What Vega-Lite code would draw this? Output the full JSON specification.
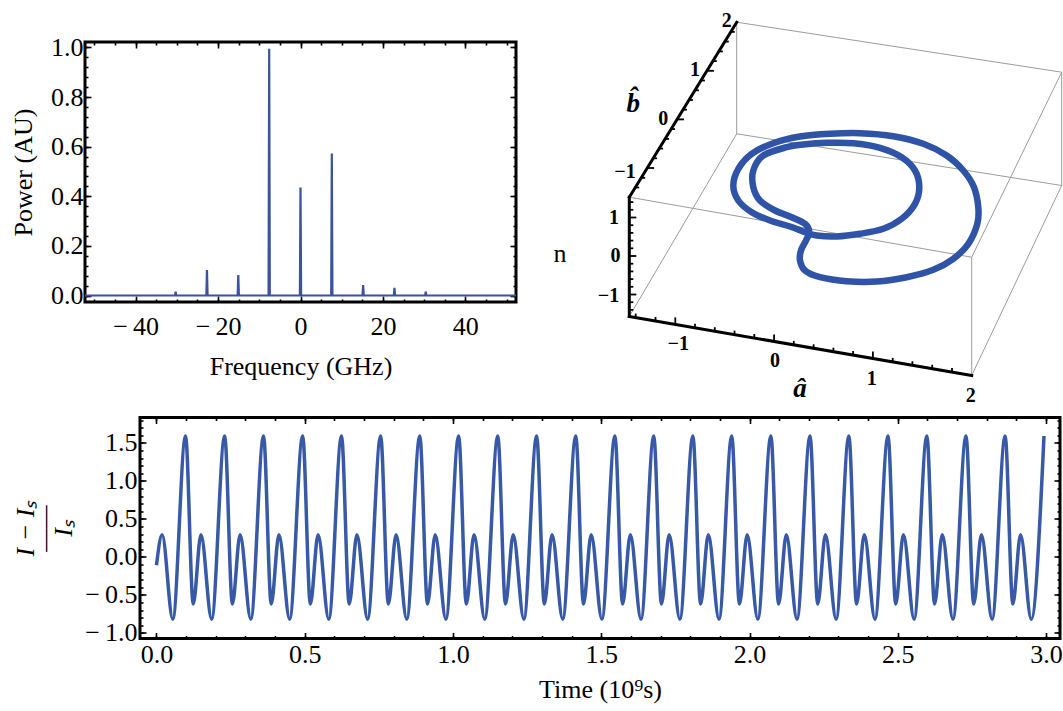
{
"$schema": "https://vega.github.io/schema/vega-lite/v6.json",
"background": "white",
"padding": {"left": 9, "top": 11, "right": 0, "bottom": 0},
"config": {
  "font": "Liberation Serif",
  "view": {"stroke": "black", "strokeWidth": 3},
  "axis": {"grid": false, "domain": false, "tickColor": "black", "tickWidth": 1.6, "labelFont": "Liberation Serif", "labelFontSize": 26, "labelColor": "black", "labelFlush": false, "labelOverlap": false, "titleFont": "Liberation Serif", "titleFontSize": 26, "titleFontWeight": "normal", "titleColor": "black"}
},
"datasets": {
  "spec": [
    {"f": -52.3, "p": 0}, {"f": -30.45, "p": 0}, {"f": -30.3, "p": 0.015}, {"f": -30.15, "p": 0},
    {"f": -22.85, "p": 0}, {"f": -22.7, "p": 0.103}, {"f": -22.55, "p": 0},
    {"f": -15.25, "p": 0}, {"f": -15.1, "p": 0.083}, {"f": -14.95, "p": 0},
    {"f": -7.75, "p": 0}, {"f": -7.6, "p": 0.995}, {"f": -7.45, "p": 0},
    {"f": -0.15, "p": 0}, {"f": 0, "p": 0.435}, {"f": 0.15, "p": 0},
    {"f": 7.45, "p": 0}, {"f": 7.6, "p": 0.572}, {"f": 7.75, "p": 0},
    {"f": 15.05, "p": 0}, {"f": 15.2, "p": 0.042}, {"f": 15.35, "p": 0},
    {"f": 22.65, "p": 0}, {"f": 22.8, "p": 0.031}, {"f": 22.95, "p": 0},
    {"f": 30.25, "p": 0}, {"f": 30.4, "p": 0.015}, {"f": 30.55, "p": 0},
    {"f": 52.3, "p": 0}
  ],
  "ts": [
    {"t": 0, "v": -0.11}, {"t": 0.019, "v": 0.29}, {"t": 0.055, "v": -0.82},
    {"t": 0.098, "v": 1.59}, {"t": 0.124, "v": -0.62}, {"t": 0.150, "v": 0.29}, {"t": 0.186, "v": -0.82},
    {"t": 0.230, "v": 1.59}, {"t": 0.256, "v": -0.62}, {"t": 0.282, "v": 0.29}, {"t": 0.318, "v": -0.82},
    {"t": 0.361, "v": 1.59}, {"t": 0.387, "v": -0.62}, {"t": 0.413, "v": 0.29}, {"t": 0.449, "v": -0.82},
    {"t": 0.493, "v": 1.59}, {"t": 0.519, "v": -0.62}, {"t": 0.545, "v": 0.29}, {"t": 0.581, "v": -0.82},
    {"t": 0.624, "v": 1.59}, {"t": 0.650, "v": -0.62}, {"t": 0.676, "v": 0.29}, {"t": 0.712, "v": -0.82},
    {"t": 0.756, "v": 1.59}, {"t": 0.782, "v": -0.62}, {"t": 0.808, "v": 0.29}, {"t": 0.844, "v": -0.82},
    {"t": 0.888, "v": 1.59}, {"t": 0.914, "v": -0.62}, {"t": 0.940, "v": 0.29}, {"t": 0.976, "v": -0.82},
    {"t": 1.019, "v": 1.59}, {"t": 1.045, "v": -0.62}, {"t": 1.071, "v": 0.29}, {"t": 1.107, "v": -0.82},
    {"t": 1.151, "v": 1.59}, {"t": 1.177, "v": -0.62}, {"t": 1.203, "v": 0.29}, {"t": 1.239, "v": -0.82},
    {"t": 1.282, "v": 1.59}, {"t": 1.308, "v": -0.62}, {"t": 1.334, "v": 0.29}, {"t": 1.370, "v": -0.82},
    {"t": 1.414, "v": 1.59}, {"t": 1.440, "v": -0.62}, {"t": 1.466, "v": 0.29}, {"t": 1.502, "v": -0.82},
    {"t": 1.546, "v": 1.59}, {"t": 1.572, "v": -0.62}, {"t": 1.598, "v": 0.29}, {"t": 1.634, "v": -0.82},
    {"t": 1.677, "v": 1.59}, {"t": 1.703, "v": -0.62}, {"t": 1.729, "v": 0.29}, {"t": 1.765, "v": -0.82},
    {"t": 1.809, "v": 1.59}, {"t": 1.835, "v": -0.62}, {"t": 1.861, "v": 0.29}, {"t": 1.897, "v": -0.82},
    {"t": 1.940, "v": 1.59}, {"t": 1.966, "v": -0.62}, {"t": 1.992, "v": 0.29}, {"t": 2.028, "v": -0.82},
    {"t": 2.072, "v": 1.59}, {"t": 2.098, "v": -0.62}, {"t": 2.124, "v": 0.29}, {"t": 2.160, "v": -0.82},
    {"t": 2.204, "v": 1.59}, {"t": 2.230, "v": -0.62}, {"t": 2.256, "v": 0.29}, {"t": 2.292, "v": -0.82},
    {"t": 2.335, "v": 1.59}, {"t": 2.361, "v": -0.62}, {"t": 2.387, "v": 0.29}, {"t": 2.423, "v": -0.82},
    {"t": 2.467, "v": 1.59}, {"t": 2.493, "v": -0.62}, {"t": 2.519, "v": 0.29}, {"t": 2.555, "v": -0.82},
    {"t": 2.598, "v": 1.59}, {"t": 2.624, "v": -0.62}, {"t": 2.650, "v": 0.29}, {"t": 2.686, "v": -0.82},
    {"t": 2.730, "v": 1.59}, {"t": 2.756, "v": -0.62}, {"t": 2.782, "v": 0.29}, {"t": 2.818, "v": -0.82},
    {"t": 2.862, "v": 1.59}, {"t": 2.888, "v": -0.62}, {"t": 2.914, "v": 0.29}, {"t": 2.950, "v": -0.82},
    {"t": 2.993, "v": 1.59}
  ],
  "seg": [
    {"k": "e", "u": 629.3, "v": 316, "u2": 736.7, "v2": 133.3},
    {"k": "e", "u": 629.3, "v": 196.7, "u2": 971.7, "v2": 256.7},
    {"k": "e", "u": 736.7, "v": 133.3, "u2": 736.7, "v2": 21.7},
    {"k": "e", "u": 736.7, "v": 133.3, "u2": 1061.7, "v2": 185},
    {"k": "e", "u": 736.7, "v": 21.7, "u2": 1061.7, "v2": 71.7},
    {"k": "e", "u": 971.7, "v": 375, "u2": 971.7, "v2": 256.7},
    {"k": "e", "u": 971.7, "v": 375, "u2": 1061.7, "v2": 185},
    {"k": "e", "u": 971.7, "v": 256.7, "u2": 1061.7, "v2": 71.7},
    {"k": "e", "u": 1061.7, "v": 185, "u2": 1061.7, "v2": 71.7},
    {"k": "a", "u": 629.3, "v": 316, "u2": 629.3, "v2": 196.7},
    {"k": "a", "u": 629.3, "v": 196.7, "u2": 736.7, "v2": 21.7},
    {"k": "a", "u": 629.3, "v": 316, "u2": 971.7, "v2": 375},
    {"k": "t", "u": 635.7, "v": 317.1, "u2": 635.7, "v2": 313.1},
    {"k": "t", "u": 655.5, "v": 320.5, "u2": 655.5, "v2": 316.5},
    {"k": "t", "u": 675.3, "v": 323.9, "u2": 675.3, "v2": 316.9},
    {"k": "t", "u": 695.0, "v": 327.3, "u2": 695.0, "v2": 323.3},
    {"k": "t", "u": 714.8, "v": 330.7, "u2": 714.8, "v2": 326.7},
    {"k": "t", "u": 734.5, "v": 334.1, "u2": 734.5, "v2": 330.1},
    {"k": "t", "u": 754.3, "v": 337.5, "u2": 754.3, "v2": 333.5},
    {"k": "t", "u": 774.1, "v": 340.9, "u2": 774.1, "v2": 333.9},
    {"k": "t", "u": 793.8, "v": 344.4, "u2": 793.8, "v2": 340.4},
    {"k": "t", "u": 813.6, "v": 347.8, "u2": 813.6, "v2": 343.8},
    {"k": "t", "u": 833.4, "v": 351.2, "u2": 833.4, "v2": 347.2},
    {"k": "t", "u": 853.1, "v": 354.6, "u2": 853.1, "v2": 350.6},
    {"k": "t", "u": 872.9, "v": 358.0, "u2": 872.9, "v2": 351.0},
    {"k": "t", "u": 892.7, "v": 361.4, "u2": 892.7, "v2": 357.4},
    {"k": "t", "u": 912.4, "v": 364.8, "u2": 912.4, "v2": 360.8},
    {"k": "t", "u": 932.2, "v": 368.2, "u2": 932.2, "v2": 364.2},
    {"k": "t", "u": 952.0, "v": 371.6, "u2": 952.0, "v2": 367.6},
    {"k": "t", "u": 730.7, "v": 31.4, "u2": 734.7, "v2": 31.4},
    {"k": "t", "u": 724.8, "v": 41.1, "u2": 728.8, "v2": 41.1},
    {"k": "t", "u": 718.8, "v": 50.9, "u2": 722.8, "v2": 50.9},
    {"k": "t", "u": 712.8, "v": 60.6, "u2": 716.8, "v2": 60.6},
    {"k": "t", "u": 706.9, "v": 70.3, "u2": 713.9, "v2": 70.3},
    {"k": "t", "u": 700.9, "v": 80.0, "u2": 704.9, "v2": 80.0},
    {"k": "t", "u": 694.9, "v": 89.8, "u2": 698.9, "v2": 89.8},
    {"k": "t", "u": 688.9, "v": 99.5, "u2": 692.9, "v2": 99.5},
    {"k": "t", "u": 683.0, "v": 109.2, "u2": 687.0, "v2": 109.2},
    {"k": "t", "u": 677.0, "v": 118.9, "u2": 684.0, "v2": 118.9},
    {"k": "t", "u": 671.0, "v": 128.6, "u2": 675.0, "v2": 128.6},
    {"k": "t", "u": 665.1, "v": 138.4, "u2": 669.1, "v2": 138.4},
    {"k": "t", "u": 659.1, "v": 148.1, "u2": 663.1, "v2": 148.1},
    {"k": "t", "u": 653.1, "v": 157.8, "u2": 657.1, "v2": 157.8},
    {"k": "t", "u": 647.1, "v": 167.5, "u2": 654.1, "v2": 167.5},
    {"k": "t", "u": 641.2, "v": 177.3, "u2": 645.2, "v2": 177.3},
    {"k": "t", "u": 635.2, "v": 187.0, "u2": 639.2, "v2": 187.0},
    {"k": "t", "u": 629.3, "v": 201.6, "u2": 633.3, "v2": 201.6},
    {"k": "t", "u": 629.3, "v": 209.3, "u2": 633.3, "v2": 209.3},
    {"k": "t", "u": 629.3, "v": 217.0, "u2": 636.3, "v2": 217.0},
    {"k": "t", "u": 629.3, "v": 224.7, "u2": 633.3, "v2": 224.7},
    {"k": "t", "u": 629.3, "v": 232.4, "u2": 633.3, "v2": 232.4},
    {"k": "t", "u": 629.3, "v": 240.1, "u2": 633.3, "v2": 240.1},
    {"k": "t", "u": 629.3, "v": 247.8, "u2": 633.3, "v2": 247.8},
    {"k": "t", "u": 629.3, "v": 255.5, "u2": 636.3, "v2": 255.5},
    {"k": "t", "u": 629.3, "v": 263.2, "u2": 633.3, "v2": 263.2},
    {"k": "t", "u": 629.3, "v": 270.9, "u2": 633.3, "v2": 270.9},
    {"k": "t", "u": 629.3, "v": 278.6, "u2": 633.3, "v2": 278.6},
    {"k": "t", "u": 629.3, "v": 286.3, "u2": 633.3, "v2": 286.3},
    {"k": "t", "u": 629.3, "v": 294.0, "u2": 636.3, "v2": 294.0},
    {"k": "t", "u": 629.3, "v": 301.7, "u2": 633.3, "v2": 301.7},
    {"k": "t", "u": 629.3, "v": 309.4, "u2": 633.3, "v2": 309.4}
  ],
  "curve": [
    {"i": 1, "u": 786.7, "v": 146.7}, {"i": 2, "u": 763.3, "v": 155}, {"i": 3, "u": 753.3, "v": 170},
    {"i": 4, "u": 753.3, "v": 186.7}, {"i": 5, "u": 760, "v": 200}, {"i": 6, "u": 775, "v": 210},
    {"i": 7, "u": 791.7, "v": 216.7}, {"i": 8, "u": 805, "v": 223.3}, {"i": 9, "u": 809.3, "v": 231.7},
    {"i": 10, "u": 806, "v": 240}, {"i": 11, "u": 801, "v": 250}, {"i": 12, "u": 800, "v": 260},
    {"i": 13, "u": 805, "v": 270}, {"i": 14, "u": 820, "v": 276.7}, {"i": 15, "u": 846.7, "v": 280.7},
    {"i": 16, "u": 876.7, "v": 281}, {"i": 17, "u": 906.7, "v": 276.7}, {"i": 18, "u": 933.3, "v": 269.3},
    {"i": 19, "u": 953.3, "v": 258.3}, {"i": 20, "u": 968.3, "v": 243.3}, {"i": 21, "u": 977.3, "v": 223.3},
    {"i": 22, "u": 978.3, "v": 206.7}, {"i": 23, "u": 974, "v": 186.7}, {"i": 24, "u": 963.3, "v": 170},
    {"i": 25, "u": 946.7, "v": 155}, {"i": 26, "u": 923.3, "v": 143.3}, {"i": 27, "u": 893.3, "v": 135.7},
    {"i": 28, "u": 860, "v": 132.7}, {"i": 29, "u": 830, "v": 133.3}, {"i": 30, "u": 800, "v": 136},
    {"i": 31, "u": 773.3, "v": 142.7}, {"i": 32, "u": 751.7, "v": 153.3}, {"i": 33, "u": 738.3, "v": 168.3},
    {"i": 34, "u": 733.3, "v": 185}, {"i": 35, "u": 738.3, "v": 200}, {"i": 36, "u": 751.7, "v": 211.7},
    {"i": 37, "u": 770, "v": 220}, {"i": 38, "u": 790, "v": 226}, {"i": 39, "u": 805, "v": 231.7},
    {"i": 40, "u": 816.7, "v": 235}, {"i": 41, "u": 836.7, "v": 236}, {"i": 42, "u": 860, "v": 233.3},
    {"i": 43, "u": 883.3, "v": 228.3}, {"i": 44, "u": 901.7, "v": 218.3}, {"i": 45, "u": 915, "v": 203.3},
    {"i": 46, "u": 919.3, "v": 186.7}, {"i": 47, "u": 915, "v": 170}, {"i": 48, "u": 901.7, "v": 156.7},
    {"i": 49, "u": 880, "v": 147.3}, {"i": 50, "u": 853.3, "v": 142.7}, {"i": 51, "u": 826.7, "v": 142.3},
    {"i": 52, "u": 803.3, "v": 144}
  ],
  "lab": [
    {"k": "tick", "u": 678.3, "v": 343.3, "s": "−1"},
    {"k": "tick", "u": 775, "v": 360.7, "s": "0"},
    {"k": "tick", "u": 871.7, "v": 378.3, "s": "1"},
    {"k": "tick", "u": 970.7, "v": 395, "s": "2"},
    {"k": "tick", "u": 726.7, "v": 20.7, "s": "2"},
    {"k": "tick", "u": 695, "v": 69.3, "s": "1"},
    {"k": "tick", "u": 663.3, "v": 118.3, "s": "0"},
    {"k": "tick", "u": 625, "v": 171.7, "s": "−1"},
    {"k": "tick", "u": 614, "v": 217.5, "s": "1"},
    {"k": "tick", "u": 615.5, "v": 255.5, "s": "0"},
    {"k": "tick", "u": 608.5, "v": 295.5, "s": "−1"},
    {"k": "hat", "u": 633.3, "v": 103.3, "s": "b̂"},
    {"k": "hat", "u": 800, "v": 388.3, "s": "â"},
    {"k": "n", "u": 560, "v": 253, "s": "n"}
  ],
  "blank": [{"z": 0}]
},
"columns": 1,
"spacing": 8.5,
"concat": [
  {
    "hconcat": [
      {
        "width": 431, "height": 260,
        "data": {"name": "spec"},
        "resolve": {"axis": {"x": "independent", "y": "independent"}},
        "layer": [
          {
            "mark": {"type": "line", "color": "#3a52a0", "strokeWidth": 2.2},
            "encoding": {
              "x": {"field": "f", "type": "quantitative", "scale": {"domain": [-52.3, 52.3], "nice": false, "zero": false},
                    "axis": {"orient": "bottom", "values": [-40, -20, 0, 20, 40], "tickSize": -6, "labelPadding": 17, "labelExpr": "datum.value < 0 ? '\u2212\u2009' + format(-datum.value, 'd') : format(datum.value, 'd')", "title": "Frequency (GHz)", "titlePadding": 14}},
              "y": {"field": "p", "type": "quantitative", "scale": {"domain": [-0.0262, 1.0218], "nice": false, "zero": false},
                    "axis": {"orient": "left", "values": [0, 0.2, 0.4, 0.6, 0.8, 1], "tickSize": -6, "labelPadding": 8, "labelExpr": "format(datum.value, '.1f')", "title": "Power (AU)", "titlePadding": 14}}
            }
          },
          {
            "mark": {"type": "point", "opacity": 0},
            "encoding": {
              "x": {"field": "f", "type": "quantitative", "scale": {"domain": [-52.3, 52.3], "nice": false, "zero": false},
                    "axis": {"orient": "top", "values": [-40, -20, 0, 20, 40], "tickSize": -6, "labels": false, "title": null}},
              "y": {"field": "p", "type": "quantitative", "scale": {"domain": [-0.0262, 1.0218], "nice": false, "zero": false},
                    "axis": {"orient": "right", "values": [0, 0.2, 0.4, 0.6, 0.8, 1], "tickSize": -6, "labels": false, "title": null}}
            }
          },
          {
            "mark": {"type": "point", "opacity": 0},
            "encoding": {
              "x": {"field": "f", "type": "quantitative", "scale": {"domain": [-52.3, 52.3], "nice": false, "zero": false},
                    "axis": {"orient": "bottom", "values": [-50, -45, -40, -35, -30, -25, -20, -15, -10, -5, 0, 5, 10, 15, 20, 25, 30, 35, 40, 45, 50], "tickSize": -3, "labels": false, "title": null}},
              "y": {"field": "p", "type": "quantitative", "scale": {"domain": [-0.0262, 1.0218], "nice": false, "zero": false},
                    "axis": {"orient": "left", "values": [0, 0.04, 0.08, 0.12, 0.16, 0.2, 0.24, 0.28, 0.32, 0.36, 0.4, 0.44, 0.48, 0.52, 0.56, 0.6, 0.64, 0.68, 0.72, 0.76, 0.8, 0.84, 0.88, 0.92, 0.96, 1], "tickSize": -3, "labels": false, "title": null}}
            }
          },
          {
            "mark": {"type": "point", "opacity": 0},
            "encoding": {
              "x": {"field": "f", "type": "quantitative", "scale": {"domain": [-52.3, 52.3], "nice": false, "zero": false},
                    "axis": {"orient": "top", "values": [-50, -45, -40, -35, -30, -25, -20, -15, -10, -5, 0, 5, 10, 15, 20, 25, 30, 35, 40, 45, 50], "tickSize": -3, "labels": false, "title": null}},
              "y": {"field": "p", "type": "quantitative", "scale": {"domain": [-0.0262, 1.0218], "nice": false, "zero": false},
                    "axis": {"orient": "right", "values": [0, 0.04, 0.08, 0.12, 0.16, 0.2, 0.24, 0.28, 0.32, 0.36, 0.4, 0.44, 0.48, 0.52, 0.56, 0.6, 0.64, 0.68, 0.72, 0.76, 0.8, 0.84, 0.88, 0.92, 0.96, 1], "tickSize": -3, "labels": false, "title": null}}
            }
          }
        ]
      },
      {
        "width": 463, "height": 260,
        "view": {"stroke": null},
        "layer": [
          {
            "data": {"name": "seg"}, "transform": [{"filter": "datum.k == 'e'"}],
            "mark": {"type": "rule", "color": "#9c9c9c", "strokeWidth": 1},
            "encoding": {
              "x": {"field": "u", "type": "quantitative", "scale": {"domain": [600, 1063], "nice": false, "zero": false}, "axis": null},
              "y": {"field": "v", "type": "quantitative", "scale": {"domain": [41.5, 301.5], "nice": false, "zero": false, "reverse": true}, "axis": null},
              "x2": {"field": "u2"}, "y2": {"field": "v2"}
            }
          },
          {
            "data": {"name": "seg"}, "transform": [{"filter": "datum.k == 'a'"}],
            "mark": {"type": "rule", "color": "black", "strokeWidth": 3, "strokeCap": "square"},
            "encoding": {
              "x": {"field": "u", "type": "quantitative", "scale": {"domain": [600, 1063], "nice": false, "zero": false}, "axis": null},
              "y": {"field": "v", "type": "quantitative", "scale": {"domain": [41.5, 301.5], "nice": false, "zero": false, "reverse": true}, "axis": null},
              "x2": {"field": "u2"}, "y2": {"field": "v2"}
            }
          },
          {
            "data": {"name": "seg"}, "transform": [{"filter": "datum.k == 't'"}],
            "mark": {"type": "rule", "color": "black", "strokeWidth": 1.8},
            "encoding": {
              "x": {"field": "u", "type": "quantitative", "scale": {"domain": [600, 1063], "nice": false, "zero": false}, "axis": null},
              "y": {"field": "v", "type": "quantitative", "scale": {"domain": [41.5, 301.5], "nice": false, "zero": false, "reverse": true}, "axis": null},
              "x2": {"field": "u2"}, "y2": {"field": "v2"}
            }
          },
          {
            "data": {"name": "curve"},
            "mark": {"type": "line", "color": "#2f53a6", "strokeWidth": 6.5, "interpolate": "cardinal-closed"},
            "encoding": {
              "x": {"field": "u", "type": "quantitative", "scale": {"domain": [600, 1063], "nice": false, "zero": false}, "axis": null},
              "y": {"field": "v", "type": "quantitative", "scale": {"domain": [41.5, 301.5], "nice": false, "zero": false, "reverse": true}, "axis": null},
              "order": {"field": "i", "type": "quantitative"}
            }
          },
          {
            "data": {"name": "lab"}, "transform": [{"filter": "datum.k == 'tick'"}],
            "mark": {"type": "text", "font": "Liberation Serif", "fontWeight": "bold", "fontSize": 20, "align": "center", "baseline": "middle", "color": "black"},
            "encoding": {
              "x": {"field": "u", "type": "quantitative", "scale": {"domain": [600, 1063], "nice": false, "zero": false}, "axis": null},
              "y": {"field": "v", "type": "quantitative", "scale": {"domain": [41.5, 301.5], "nice": false, "zero": false, "reverse": true}, "axis": null},
              "text": {"field": "s"}
            }
          },
          {
            "data": {"name": "lab"}, "transform": [{"filter": "datum.k == 'hat'"}],
            "mark": {"type": "text", "font": "Liberation Serif", "fontWeight": "bold", "fontStyle": "italic", "fontSize": 27, "align": "center", "baseline": "middle", "color": "black"},
            "encoding": {
              "x": {"field": "u", "type": "quantitative", "scale": {"domain": [600, 1063], "nice": false, "zero": false}, "axis": null},
              "y": {"field": "v", "type": "quantitative", "scale": {"domain": [41.5, 301.5], "nice": false, "zero": false, "reverse": true}, "axis": null},
              "text": {"field": "s"}
            }
          },
          {
            "data": {"name": "lab"}, "transform": [{"filter": "datum.k == 'n'"}],
            "mark": {"type": "text", "font": "Liberation Serif", "fontSize": 26, "align": "center", "baseline": "middle", "color": "black"},
            "encoding": {
              "x": {"field": "u", "type": "quantitative", "scale": {"domain": [600, 1063], "nice": false, "zero": false}, "axis": null},
              "y": {"field": "v", "type": "quantitative", "scale": {"domain": [41.5, 301.5], "nice": false, "zero": false, "reverse": true}, "axis": null},
              "text": {"field": "s"}
            }
          }
        ]
      }
    ],
    "spacing": 84,
    "bounds": "flush"
  },
  {
    "hconcat": [
      {
        "width": 1, "height": 1,
        "view": {"stroke": null},
        "data": {"name": "blank"},
        "mark": {"type": "point", "opacity": 0}
      },
      {
        "width": 920, "height": 221,
        "data": {"name": "ts"},
        "resolve": {"axis": {"x": "independent", "y": "independent"}},
        "layer": [
          {
            "mark": {"type": "line", "color": "#3759a6", "strokeWidth": 3.5, "interpolate": "monotone"},
            "encoding": {
              "x": {"field": "t", "type": "quantitative", "scale": {"domain": [-0.0556, 3.047], "nice": false, "zero": false},
                    "axis": {"orient": "bottom", "values": [0, 0.5, 1, 1.5, 2, 2.5, 3], "tickSize": -6, "labelPadding": 9, "labelExpr": "format(datum.value, '.1f')", "title": "Time (10⁹s)", "titlePadding": 9}},
              "y": {"field": "v", "type": "quantitative", "scale": {"domain": [-1.074, 1.834], "nice": false, "zero": false},
                    "axis": {"orient": "left", "values": [-1, -0.5, 0, 0.5, 1, 1.5], "tickSize": -6, "labelPadding": 9, "labelExpr": "datum.value < 0 ? '\u2212\u2009' + format(-datum.value, '.1f') : format(datum.value, '.1f')", "title": ["I − Iₛ", "——", "Iₛ"], "titleFontStyle": "italic", "titleLineHeight": 19, "titlePadding": 8}}
            }
          },
          {
            "mark": {"type": "point", "opacity": 0},
            "encoding": {
              "x": {"field": "t", "type": "quantitative", "scale": {"domain": [-0.0556, 3.047], "nice": false, "zero": false},
                    "axis": {"orient": "top", "values": [0, 0.5, 1, 1.5, 2, 2.5, 3], "tickSize": -6, "labels": false, "title": null}},
              "y": {"field": "v", "type": "quantitative", "scale": {"domain": [-1.074, 1.834], "nice": false, "zero": false},
                    "axis": {"orient": "right", "values": [-1, -0.5, 0, 0.5, 1, 1.5], "tickSize": -6, "labels": false, "title": null}}
            }
          },
          {
            "mark": {"type": "point", "opacity": 0},
            "encoding": {
              "x": {"field": "t", "type": "quantitative", "scale": {"domain": [-0.0556, 3.047], "nice": false, "zero": false},
                    "axis": {"orient": "bottom", "values": [0, 0.1, 0.2, 0.3, 0.4, 0.5, 0.6, 0.7, 0.8, 0.9, 1, 1.1, 1.2, 1.3, 1.4, 1.5, 1.6, 1.7, 1.8, 1.9, 2, 2.1, 2.2, 2.3, 2.4, 2.5, 2.6, 2.7, 2.8, 2.9, 3], "tickSize": -3, "labels": false, "title": null}},
              "y": {"field": "v", "type": "quantitative", "scale": {"domain": [-1.074, 1.834], "nice": false, "zero": false},
                    "axis": {"orient": "left", "values": [-1, -0.9, -0.8, -0.7, -0.6, -0.5, -0.4, -0.3, -0.2, -0.1, 0, 0.1, 0.2, 0.3, 0.4, 0.5, 0.6, 0.7, 0.8, 0.9, 1, 1.1, 1.2, 1.3, 1.4, 1.5, 1.6, 1.7, 1.8], "tickSize": -3, "labels": false, "title": null}}
            }
          },
          {
            "mark": {"type": "point", "opacity": 0},
            "encoding": {
              "x": {"field": "t", "type": "quantitative", "scale": {"domain": [-0.0556, 3.047], "nice": false, "zero": false},
                    "axis": {"orient": "top", "values": [0, 0.1, 0.2, 0.3, 0.4, 0.5, 0.6, 0.7, 0.8, 0.9, 1, 1.1, 1.2, 1.3, 1.4, 1.5, 1.6, 1.7, 1.8, 1.9, 2, 2.1, 2.2, 2.3, 2.4, 2.5, 2.6, 2.7, 2.8, 2.9, 3], "tickSize": -3, "labels": false, "title": null}},
              "y": {"field": "v", "type": "quantitative", "scale": {"domain": [-1.074, 1.834], "nice": false, "zero": false},
                    "axis": {"orient": "right", "values": [-1, -0.9, -0.8, -0.7, -0.6, -0.5, -0.4, -0.3, -0.2, -0.1, 0, 0.1, 0.2, 0.3, 0.4, 0.5, 0.6, 0.7, 0.8, 0.9, 1, 1.1, 1.2, 1.3, 1.4, 1.5, 1.6, 1.7, 1.8], "tickSize": -3, "labels": false, "title": null}}
            }
          }
        ]
      }
    ],
    "spacing": 54,
    "bounds": "flush"
  }
]
}
